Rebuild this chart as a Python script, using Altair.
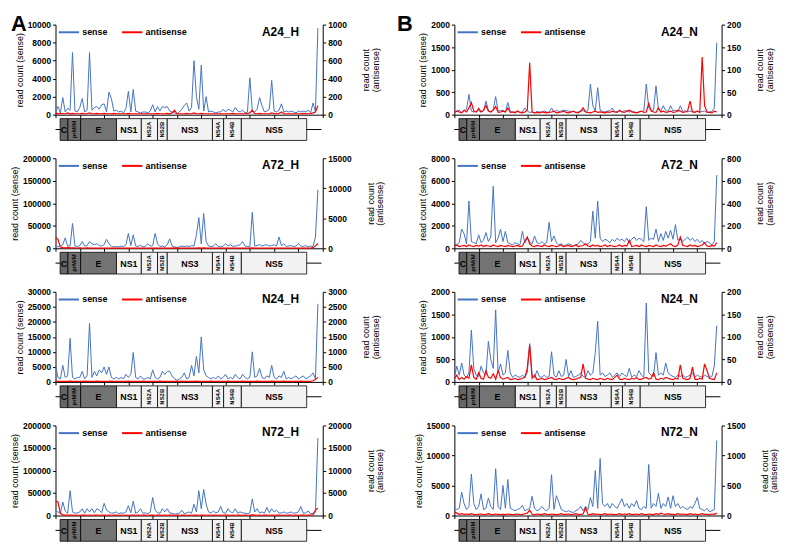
import altair as alt
import pandas as pd

FONT = "Liberation Sans"
BLUE = "#4472C4"
RED = "#FF0000"
W, H = 270, 91

# genome bins (nt), one value per 100-nt bin
positions = list(range(0, 10900, 100))

A24_H_sense = [
    300, 900, 200, 1900, 300, 700, 500, 6900, 400, 300,
    800, 1800, 300, 500, 6900, 500, 800, 900, 600, 1100,
    1200, 300, 2500, 1800, 400, 500, 300, 400, 200, 700,
    2600, 300, 2800, 400, 300, 200, 300, 300, 200, 400,
    1100, 300, 900, 400, 900, 800, 900, 400, 300, 200,
    100, 300, 600, 1000, 1300, 400, 800, 6000, 2000, 600,
    5500, 400, 2000, 300, 400, 300, 200, 300, 300, 600,
    300, 600, 500, 300, 800, 400, 300, 500, 200, 300,
    4100, 400, 300, 600, 1900, 1000, 300, 400, 600, 3800,
    400, 300, 500, 1200, 300, 400, 300, 400, 300, 200,
    400, 300, 400, 300, 500, 200, 1300, 300, 9600]
A24_H_anti = [
    20, 10, 15, 10, 10, 20, 10, 15, 10, 10,
    10, 15, 10, 10, 20, 10, 10, 15, 10, 10,
    15, 10, 10, 10, 15, 10, 10, 10, 10, 10,
    15, 10, 10, 10, 10, 10, 10, 10, 10, 10,
    10, 10, 15, 10, 10, 10, 15, 10, 20, 50,
    10, 10, 10, 10, 15, 10, 10, 20, 10, 10,
    15, 10, 10, 10, 10, 10, 10, 10, 10, 10,
    10, 10, 10, 15, 10, 10, 10, 10, 10, 15,
    20, 50, 10, 10, 15, 10, 10, 10, 10, 20,
    10, 10, 15, 30, 10, 10, 10, 10, 10, 10,
    10, 10, 15, 10, 10, 10, 20, 30, 100]

A72_H_sense = [
    5000, 3000, 5000, 8000, 23000, 5000, 5000, 55000, 5000, 4000,
    6000, 15000, 5000, 6000, 15000, 10000, 8000, 10000, 6000, 5000,
    8000, 20000, 10000, 5000, 3000, 4000, 3000, 5000, 4000, 8000,
    33000, 6000, 30000, 5000, 4000, 7000, 3000, 5000, 10000, 5000,
    6000, 33000, 10000, 4000, 5000, 3000, 8000, 21000, 5000, 3000,
    2000, 3000, 5000, 4000, 5000, 4000, 6000, 5000, 30000, 68000,
    10000, 77000, 15000, 5000, 4000, 5000, 10000, 4000, 3000, 5000,
    10000, 5000, 8000, 4000, 5000, 6000, 8000, 15000, 5000, 4000,
    3000, 80000, 5000, 6000, 8000, 5000, 7000, 8000, 5000, 6000,
    8000, 5000, 25000, 6000, 10000, 4000, 5000, 6000, 4000, 5000,
    10000, 5000, 4000, 6000, 3000, 5000, 4000, 25000, 130000]
A72_H_anti = [
    1800, 1500, 200, 100, 80, 100, 60, 80, 60, 50,
    60, 50, 40, 60, 50, 40, 50, 40, 50, 40,
    50, 40, 50, 40, 30, 40, 30, 40, 30, 40,
    50, 40, 50, 40, 30, 40, 30, 40, 30, 40,
    40, 50, 40, 30, 40, 30, 40, 30, 40, 60,
    40, 30, 40, 30, 40, 30, 40, 50, 40, 60,
    50, 60, 40, 30, 40, 30, 40, 30, 40, 30,
    40, 30, 40, 30, 40, 30, 40, 50, 40, 30,
    40, 60, 40, 30, 40, 30, 40, 30, 40, 30,
    40, 30, 50, 30, 40, 30, 40, 30, 40, 30,
    40, 30, 40, 30, 40, 50, 100, 400, 800]

A24_N_sense = [
    60, 80, 100, 50, 90, 120, 450, 80, 60, 70,
    90, 60, 80, 300, 100, 60, 120, 400, 80, 90,
    100, 60, 270, 70, 50, 60, 80, 50, 60, 150,
    80, 50, 60, 40, 70, 60, 50, 80, 60, 50,
    150, 60, 100, 70, 80, 100, 90, 80, 60, 70,
    50, 60, 80, 90, 60, 100, 680, 200, 80, 600,
    100, 70, 60, 80, 90, 150, 60, 70, 80, 60,
    90, 70, 60, 80, 60, 50, 60, 70, 80, 680,
    150, 90, 100, 640, 120, 80, 200, 90, 70, 200,
    80, 100, 60, 200, 70, 90, 60, 80, 70, 60,
    80, 60, 70, 80, 50, 60, 70, 150, 1600]
A24_N_anti = [
    5, 8, 6, 4, 10, 6, 15, 27, 8, 6,
    14, 6, 10, 20, 8, 6, 10, 18, 5, 6,
    8, 6, 15, 5, 6, 4, 8, 5, 4, 6,
    10, 115, 6, 4, 5, 4, 6, 5, 4, 5,
    6, 8, 4, 5, 6, 8, 5, 4, 6, 8,
    5, 4, 8, 15, 6, 5, 4, 6, 8, 5,
    6, 5, 4, 6, 5, 8, 6, 5, 10, 6,
    5, 8, 10, 6, 5, 4, 6, 8, 5, 6,
    25, 8, 6, 5, 15, 6, 8, 5, 6, 8,
    5, 6, 10, 8, 5, 6, 8, 30, 6, 5,
    8, 5, 128, 20, 6, 5, 4, 8, 6]

A72_N_sense = [
    400, 300, 500, 1700, 1300, 400, 4200, 600, 500, 400,
    1200, 500, 700, 1400, 600, 1000, 5500, 500, 900, 1700,
    600, 1500, 500, 400, 300, 500, 400, 300, 1500, 500,
    900, 600, 400, 1100, 500, 400, 600, 400, 500, 2300,
    600, 1100, 500, 300, 400, 200, 300, 400, 300, 200,
    300, 400, 700, 500, 300, 400, 600, 3300, 900, 4200,
    900, 600, 800, 700, 500, 800, 600, 900, 700, 800,
    600, 900, 500, 800, 1000, 700, 900, 800, 600, 3700,
    700, 900, 800, 1700, 600, 1300, 700, 1500, 900, 1600,
    800, 2100, 700, 900, 600, 800, 1000, 700, 900, 600,
    800, 500, 700, 400, 600, 500, 300, 600, 6500]
A72_N_anti = [
    20, 30, 15, 20, 25, 15, 30, 20, 15, 25,
    20, 30, 15, 25, 20, 15, 30, 20, 15, 25,
    20, 15, 25, 20, 15, 20, 25, 15, 20, 60,
    100, 40, 20, 15, 25, 20, 15, 30, 20, 15,
    25, 20, 15, 20, 30, 15, 20, 25, 15, 20,
    30, 15, 20, 25, 40, 20, 15, 30, 20, 25,
    15, 20, 30, 15, 25, 20, 15, 20, 30, 15,
    25, 20, 70, 15, 20, 25, 15, 30, 20, 15,
    25, 20, 15, 30, 20, 15, 25, 20, 30, 40,
    20, 15, 30, 100, 25, 20, 15, 30, 20, 25,
    15, 20, 30, 50, 20, 15, 25, 20, 50]

N24_H_sense = [
    5500, 1500, 1000, 5500, 1500, 2000, 14500, 1500, 1000, 1500,
    1500, 3500, 1000, 2000, 19500, 1500, 3500, 2000, 4000, 3000,
    5000, 2500, 5000, 1500, 1000, 1500, 1000, 1500, 1000, 2500,
    1500, 2500, 9800, 1500, 1000, 2000, 1000, 1000, 1500, 1000,
    4000, 1500, 1000, 1500, 3500, 2500, 3500, 3500, 2000, 1000,
    500, 1000, 1500, 3000, 1000, 1500, 5500, 2000, 8500, 3000,
    15000, 4000, 2000, 1500, 1000, 1500, 1000, 2000, 1000, 1500,
    2500, 1000, 1500, 1000, 2500, 1500, 1000, 2500, 1500, 1000,
    1500, 10000, 1500, 2000, 4500, 1500, 1000, 2000, 1500, 5500,
    1500, 1000, 2000, 1500, 3500, 1000, 1500, 1000, 1500, 2000,
    1000, 1500, 2000, 1000, 1500, 2000, 3000, 1000, 26000]
N24_H_anti = [
    30, 20, 15, 20, 15, 20, 25, 15, 20, 15,
    20, 15, 25, 15, 20, 15, 20, 25, 15, 20,
    15, 20, 15, 25, 15, 20, 15, 20, 15, 20,
    25, 15, 20, 15, 20, 15, 25, 15, 20, 15,
    20, 15, 20, 25, 15, 20, 15, 20, 15, 20,
    15, 20, 25, 15, 20, 15, 20, 15, 25, 20,
    15, 20, 15, 20, 25, 15, 20, 15, 20, 15,
    20, 25, 15, 20, 15, 20, 15, 25, 20, 15,
    20, 15, 20, 25, 15, 20, 15, 20, 15, 25,
    20, 15, 20, 15, 25, 20, 15, 20, 15, 20,
    15, 25, 20, 15, 20, 15, 40, 80, 150]

N24_N_sense = [
    100, 350, 150, 420, 150, 100, 200, 1150, 300, 150,
    120, 350, 200, 150, 900, 500, 300, 1600, 200, 400,
    150, 200, 700, 200, 100, 150, 120, 100, 150, 100,
    200, 850, 150, 100, 250, 120, 100, 150, 100, 120,
    670, 150, 100, 250, 120, 150, 500, 120, 250, 100,
    120, 150, 200, 120, 100, 250, 150, 200, 650, 1350,
    150, 200, 120, 150, 200, 100, 150, 200, 120, 200,
    150, 120, 300, 100, 150, 120, 250, 150, 100, 1750,
    200, 150, 120, 650, 150, 200, 150, 420, 200, 150,
    120, 100, 150, 120, 150, 100, 120, 150, 200, 100,
    150, 120, 100, 150, 120, 100, 120, 350, 1250]
N24_N_anti = [
    8, 15, 5, 10, 6, 12, 8, 38, 10, 6,
    20, 8, 6, 25, 10, 8, 18, 6, 25, 10,
    6, 8, 10, 5, 6, 8, 5, 6, 8, 10,
    30, 82, 8, 15, 5, 6, 8, 5, 6, 8,
    10, 6, 5, 8, 6, 5, 8, 10, 6, 5,
    6, 8, 10, 40, 8, 6, 5, 8, 6, 5,
    8, 6, 5, 8, 6, 5, 10, 15, 6, 5,
    8, 6, 5, 8, 6, 10, 5, 6, 8, 10,
    6, 8, 20, 6, 5, 8, 6, 10, 8, 6,
    5, 8, 6, 38, 8, 6, 5, 8, 33, 6,
    5, 8, 6, 40, 25, 8, 6, 5, 20]

N72_H_sense = [
    10000, 8000, 5000, 30000, 10000, 5000, 55000, 8000, 5000, 6000,
    8000, 15000, 5000, 15000, 8000, 15000, 6000, 15000, 12000, 6000,
    27000, 12000, 8000, 5000, 6000, 8000, 4000, 6000, 5000, 8000,
    22000, 6000, 32000, 5000, 8000, 15000, 5000, 6000, 4000, 8000,
    40000, 12000, 6000, 5000, 15000, 8000, 15000, 6000, 5000, 3000,
    4000, 5000, 12000, 4000, 6000, 8000, 5000, 25000, 8000, 55000,
    15000, 58000, 25000, 8000, 5000, 10000, 6000, 8000, 20000, 6000,
    5000, 15000, 8000, 6000, 15000, 5000, 8000, 6000, 5000, 4000,
    6000, 37000, 8000, 15000, 6000, 8000, 5000, 18000, 6000, 15000,
    8000, 12000, 5000, 6000, 8000, 5000, 6000, 8000, 5000, 6000,
    8000, 20000, 5000, 6000, 10000, 4000, 5000, 8000, 172000]
N72_H_anti = [
    3200, 3000, 500, 150, 100, 80, 100, 80, 60, 80,
    60, 80, 100, 60, 80, 60, 100, 80, 60, 80,
    100, 60, 80, 60, 80, 100, 60, 80, 60, 80,
    60, 80, 100, 60, 80, 60, 80, 100, 60, 80,
    80, 60, 100, 80, 60, 80, 60, 100, 80, 60,
    80, 60, 80, 100, 60, 80, 60, 80, 100, 60,
    80, 100, 60, 80, 60, 80, 100, 60, 80, 60,
    100, 80, 60, 80, 60, 100, 80, 60, 80, 60,
    80, 150, 100, 60, 80, 60, 80, 100, 60, 80,
    60, 80, 100, 60, 80, 60, 80, 100, 60, 80,
    60, 80, 100, 60, 80, 100, 150, 1200, 1700]

N72_N_sense = [
    1200, 1000, 1200, 3900, 2000, 1000, 1500, 6900, 2000, 1000,
    1500, 3600, 1000, 1200, 2900, 1500, 1000, 7800, 1500, 1000,
    5000, 1200, 6000, 1200, 1000, 800, 1000, 1200, 1700, 800,
    1000, 1200, 3200, 1200, 800, 1000, 1500, 1000, 800, 1200,
    6800, 1000, 3300, 2200, 1000, 800, 600, 800, 600, 500,
    800, 1000, 1500, 800, 1500, 1000, 3000, 1500, 7500, 1200,
    9500, 2000, 1500, 2000, 1200, 2000, 1500, 1200, 2000, 2800,
    1500, 2000, 1200, 2000, 1500, 2500, 1200, 1000, 1500, 1200,
    8500, 1200, 2000, 1500, 3700, 1200, 2000, 1500, 3100, 1200,
    3300, 1500, 2000, 1200, 1500, 1200, 1000, 1500, 1200, 2000,
    3000, 1200, 1000, 800, 1200, 600, 800, 1000, 12500]
N72_N_anti = [
    60, 40, 20, 30, 20, 25, 20, 30, 20, 15,
    20, 25, 15, 20, 30, 20, 15, 25, 20, 15,
    20, 15, 25, 20, 15, 20, 25, 15, 20, 30,
    40, 90, 20, 15, 25, 20, 15, 30, 20, 15,
    25, 20, 15, 20, 30, 15, 20, 25, 15, 20,
    30, 15, 20, 25, 130, 20, 15, 30, 20, 25,
    15, 20, 30, 15, 25, 20, 15, 20, 30, 15,
    25, 20, 30, 15, 20, 25, 15, 30, 20, 15,
    25, 20, 15, 30, 20, 40, 25, 20, 30, 20,
    20, 15, 30, 20, 25, 20, 15, 30, 20, 25,
    15, 20, 30, 20, 20, 15, 25, 20, 40]

# genome map (nt)
genes = ["C", "prM/M", "E", "NS1", "NS2A", "NS2B", "NS3", "NS4A", "NS4B", "NS5"]
gene_start = [190, 510, 1035, 2510, 3533, 4200, 4600, 6460, 6920, 7650]
gene_end = [510, 1035, 2510, 3533, 4200, 4600, 6460, 6920, 7650, 10340]
genome_line = [0, 10950]
vertical_genes = ["prM/M", "NS2A", "NS2B", "NS4A", "NS4B"]
gene_fills = ["#666666", "#6f6f6f", "#737373", "#f2f2f2", "#f2f2f2",
              "#f2f2f2", "#f2f2f2", "#f2f2f2", "#f2f2f2", "#f2f2f2"]

x_ticks = [0, 1000, 2000, 3000, 4000, 5000, 6000, 7000, 8000, 9000, 10000, 11000]

panels_spec = [
    ("A24_H", A24_H_sense, A24_H_anti, [0, 2000, 4000, 6000, 8000, 10000], [0, 200, 400, 600, 800, 1000], "A"),
    ("A24_N", A24_N_sense, A24_N_anti, [0, 500, 1000, 1500, 2000], [0, 50, 100, 150, 200], "B"),
    ("A72_H", A72_H_sense, A72_H_anti, [0, 50000, 100000, 150000, 200000], [0, 5000, 10000, 15000], None),
    ("A72_N", A72_N_sense, A72_N_anti, [0, 2000, 4000, 6000, 8000], [0, 200, 400, 600, 800], None),
    ("N24_H", N24_H_sense, N24_H_anti, [0, 5000, 10000, 15000, 20000, 25000, 30000], [0, 500, 1000, 1500, 2000, 2500, 3000], None),
    ("N24_N", N24_N_sense, N24_N_anti, [0, 500, 1000, 1500, 2000], [0, 50, 100, 150, 200], None),
    ("N72_H", N72_H_sense, N72_H_anti, [0, 50000, 100000, 150000, 200000], [0, 5000, 10000, 15000, 20000], None),
    ("N72_N", N72_N_sense, N72_N_anti, [0, 5000, 10000, 15000], [0, 500, 1000, 1500], None),
]

xscale = alt.Scale(domain=[0, 11000], nice=False, zero=False)
xaxis = alt.Axis(values=x_ticks, labels=False, title=None, tickSize=3, grid=False)

gdf = pd.DataFrame({"gene": genes, "start": gene_start, "end": gene_end})
ldf = pd.DataFrame({"s": [genome_line[0]], "e": [genome_line[1]]})


def make_panel(name, sense, anti, sticks, aticks, letter):
    df = pd.DataFrame({
        "pos": positions + positions,
        "value": sense + anti,
        "series": ["sense"] * len(sense) + ["antisense"] * len(anti),
    })
    color = alt.Color(
        "series:N",
        scale=alt.Scale(domain=["sense", "antisense"], range=[BLUE, RED]),
        legend=alt.Legend(
            title=None, orient="none", legendX=2, legendY=-4, direction="horizontal",
            symbolType="stroke", symbolSize=420, symbolStrokeWidth=2,
            labelFont=FONT, labelFontSize=9, labelFontWeight="bold", labelColor="black",
            labelOffset=2, columnPadding=10, padding=0,
        ),
    )
    base = alt.Chart(df)
    s_line = base.transform_filter(alt.datum.series == "sense").mark_line(strokeWidth=1).encode(
        x=alt.X("pos:Q", scale=xscale, axis=xaxis),
        y=alt.Y("value:Q", scale=alt.Scale(domain=[sticks[0], sticks[-1]], nice=False),
                axis=alt.Axis(orient="left", values=sticks, format="d", title="read count (sense)")),
        color=color,
    )
    a_line = base.transform_filter(alt.datum.series == "antisense").mark_line(strokeWidth=1.2).encode(
        x=alt.X("pos:Q", scale=xscale, axis=xaxis),
        y=alt.Y("value:Q", scale=alt.Scale(domain=[aticks[0], aticks[-1]], nice=False),
                axis=alt.Axis(orient="right", values=aticks, format="d",
                              title=["read count", "(antisense)"], titleAngle=270,
                              titleBaseline="top", titlePadding=6, titleFontSize=9,
                              titleLineHeight=9.5)),
        color=color,
    )
    rule = alt.Chart(ldf).mark_rule(color="black", strokeWidth=1).encode(
        x=alt.X("s:Q", scale=xscale, axis=xaxis), x2="e:Q", y=alt.value(H + 15))
    rects = alt.Chart(gdf).mark_rect(stroke="black", strokeWidth=0.8).encode(
        x=alt.X("start:Q", scale=xscale, axis=xaxis), x2="end:Q",
        y=alt.value(H + 4), y2=alt.value(H + 26),
        fill=alt.Fill("gene:N", scale=alt.Scale(domain=genes, range=gene_fills), legend=None),
    )
    txt_h = alt.Chart(gdf).transform_filter(
        alt.FieldOneOfPredicate(field="gene", oneOf=[g for g in genes if g not in vertical_genes])
    ).transform_calculate(mid="(datum.start + datum.end) / 2").mark_text(
        font=FONT, fontSize=9, fontWeight="bold", color="black", baseline="middle"
    ).encode(x=alt.X("mid:Q", scale=xscale, axis=xaxis), y=alt.value(H + 15.5), text="gene:N")
    txt_v = alt.Chart(gdf).transform_filter(
        alt.FieldOneOfPredicate(field="gene", oneOf=vertical_genes)
    ).transform_calculate(mid="(datum.start + datum.end) / 2").mark_text(
        font=FONT, fontSize=6, fontWeight="bold", color="black", baseline="middle", angle=270
    ).encode(x=alt.X("mid:Q", scale=xscale, axis=xaxis), y=alt.value(H + 15), text="gene:N")
    label = alt.Chart(pd.DataFrame({"t": [name]})).mark_text(
        font=FONT, fontSize=12, fontWeight="bold", color="black", align="right", baseline="middle"
    ).encode(text="t:N", x=alt.value(W - 24), y=alt.value(7))
    layers = [rule, rects, txt_h, txt_v, s_line, a_line, label]
    if letter:
        dx = -45 if letter == "A" else -58
        layers.append(alt.Chart(pd.DataFrame({"t": [letter]})).mark_text(
            font=FONT, fontSize=22, fontWeight="bold", color="black", align="left", baseline="top"
        ).encode(text="t:N", x=alt.value(dx), y=alt.value(-11)))
    return alt.layer(*layers).resolve_scale(y="independent").properties(width=W, height=H)


panels = [make_panel(*p) for p in panels_spec]

chart = alt.concat(
    *panels, columns=2, bounds="flush", spacing={"row": 44, "column": 133}
).resolve_scale(
    x="independent", y="independent", color="independent", fill="independent"
).resolve_legend(color="independent").properties(
    padding={"left": 2, "top": 2, "right": 0, "bottom": 0}
).configure_view(strokeWidth=0).configure_axis(
    labelFont=FONT, labelFontSize=8.5, labelFontWeight="bold", labelColor="black",
    titleFont=FONT, titleFontSize=9, titleFontWeight="normal", titleColor="black",
    domainColor="black", tickColor="black", tickSize=3, labelPadding=2, titlePadding=3,
    grid=False,
)

chart.save("out.html", embed_options={"renderer": "svg", "actions": False})
